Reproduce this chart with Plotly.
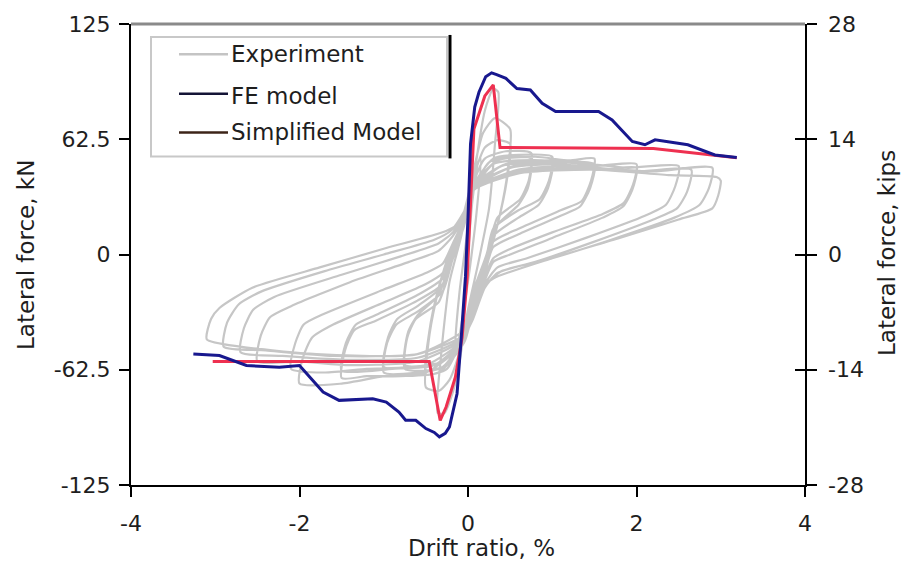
import plotly.graph_objects as go

# ---------------- data ----------------
x_ticks = [-4, -2, 0, 2, 4]
x_ticks_text = ["-4", "-2", "0", "2", "4"]
y_ticks_kn = [-125, -62.5, 0, 62.5, 125]
y_ticks_kn_text = ["-125", "-62.5", "0", "62.5", "125"]
y_ticks_kips = [-28, -14, 0, 14, 28]
y_ticks_kips_text = ["-28", "-14", "0", "14", "28"]

fe_drift = [-3.26, -2.95, -2.63, -2.24, -2.0, -1.84, -1.72, -1.53, -1.13, -0.97,
            -0.82, -0.74, -0.62, -0.50, -0.40, -0.34, -0.27, -0.22, -0.13, -0.08,
            -0.03, 0.0, 0.03, 0.08, 0.13, 0.21, 0.28, 0.34, 0.45, 0.58, 0.66, 0.74,
            0.88, 1.04, 1.31, 1.55, 1.71, 1.95, 2.10, 2.22, 2.61, 2.93, 3.19]
fe_force = [-53.9, -54.8, -60.2, -61.1, -60.2, -68.3, -74.6, -79.1, -78.2, -80.0,
            -85.4, -89.9, -89.9, -94.4, -96.5, -98.9, -97.0, -93.5, -75.5, -45.0,
            -12.0, 20.0, 60.0, 80.0, 88.0, 96.4, 98.5, 97.5, 95.5, 90.0, 89.5, 89.2,
            82.0, 77.5, 77.5, 77.5, 73.0, 61.3, 59.5, 62.2, 59.5, 54.0, 52.6]

simp_drift = [-3.03, -0.46, -0.33, -0.26, -0.15, -0.07, -0.01, 0.07, 0.20, 0.30, 0.38, 2.20, 3.19]
simp_force = [-58.0, -58.0, -90.0, -82.7, -66.5, -45.0, -12.5, 68.0, 86.0, 92.0, 58.0, 57.5, 52.5]

# experimental hysteresis path, (drift %, force kN) pairs, cycle after cycle
exp_points = [
    (0, 0), (0.05, 28), (0.12, 50), (0.15, 52), (0.1, 22), (0.02, -8), (-0.05, -30),
    (-0.12, -48), (-0.15, -50), (-0.1, -20), (-0.02, 8),
    (0.08, 45), (0.2, 78), (0.3, 90), (0.36, 88), (0.32, 60), (0.25, 25), (0.12, -5),
    (0.0, -30), (-0.15, -70), (-0.28, -86), (-0.36, -86), (-0.32, -55), (-0.22, -15), (-0.08, 10),
    (0.05, 42), (0.18, 66), (0.32, 74), (0.5, 68), (0.47, 45), (0.38, 22), (0.25, 0), (0.1, -15),
    (-0.05, -45), (-0.22, -68), (-0.35, -74), (-0.5, -72), (-0.47, -48), (-0.38, -25),
    (-0.25, -3), (-0.1, 14),
    (0.05, 40), (0.2, 58), (0.35, 62), (0.5, 60), (0.46, 40), (0.36, 18), (0.22, -4), (0.05, -20),
    (-0.05, -42), (-0.25, -62), (-0.5, -65), (-0.46, -42), (-0.36, -20), (-0.22, 0), (-0.05, 16),
    (0.06, 38), (0.2, 52), (0.45, 56), (0.75, 55), (0.72, 40), (0.62, 30), (0.35, 20), (0.22, 0),
    (0.05, -22), (-0.05, -44), (-0.25, -60), (-0.5, -63), (-0.75, -62), (-0.72, -45),
    (-0.62, -35), (-0.35, -26), (-0.2, -5), (-0.05, 15),
    (0.07, 36), (0.25, 50), (0.5, 53), (0.75, 52), (0.71, 36), (0.6, 27), (0.35, 16), (0.2, -4),
    (0.05, -24), (-0.05, -42), (-0.3, -58), (-0.75, -60), (-0.71, -42), (-0.6, -33),
    (-0.35, -22), (-0.2, -2), (-0.05, 16),
    (0.07, 38), (0.3, 52), (0.6, 54), (1.0, 53), (0.96, 40), (0.85, 30), (0.6, 24), (0.3, 14),
    (0.2, -6), (0.05, -26), (-0.05, -45), (-0.3, -61), (-0.6, -64), (-1.0, -64), (-0.96, -48),
    (-0.85, -38), (-0.6, -31), (-0.3, -20), (-0.18, -2), (-0.05, 16),
    (0.08, 36), (0.3, 49), (0.6, 51), (1.0, 50), (0.95, 36), (0.84, 27), (0.6, 20), (0.3, 10),
    (0.2, -8), (0.05, -28), (-0.05, -44), (-0.3, -58), (-0.6, -61), (-1.0, -61), (-0.95, -45),
    (-0.84, -35), (-0.6, -28), (-0.3, -17), (-0.18, 0), (-0.05, 17),
    (0.07, 38), (0.35, 51), (0.8, 53), (1.2, 51), (1.5, 52), (1.46, 40), (1.35, 29), (1.1, 24),
    (0.6, 14), (0.3, 7), (0.2, -8), (0.05, -30), (-0.05, -48), (-0.35, -64), (-0.8, -66),
    (-1.2, -66), (-1.5, -67), (-1.46, -52), (-1.35, -41), (-1.1, -36), (-0.6, -25),
    (-0.3, -16), (-0.18, 0), (-0.05, 18),
    (0.08, 36), (0.4, 48), (0.9, 50), (1.5, 49), (1.45, 36), (1.33, 26), (1.1, 21), (0.6, 11),
    (0.3, 4), (0.2, -10), (0.05, -30), (-0.05, -46), (-0.4, -60), (-0.9, -62), (-1.5, -63),
    (-1.45, -48), (-1.33, -38), (-1.1, -33), (-0.6, -22), (-0.3, -13), (-0.18, 2), (-0.05, 18),
    (0.07, 38), (0.45, 49), (1.0, 51), (1.5, 48), (2.0, 49), (1.96, 38), (1.85, 28), (1.6, 22),
    (1.0, 12), (0.5, 3), (0.3, -2), (0.2, -12), (0.05, -32), (-0.05, -48), (-0.5, -64),
    (-1.0, -66), (-1.5, -70), (-2.0, -70), (-1.96, -56), (-1.85, -45), (-1.6, -38),
    (-1.0, -26), (-0.5, -16), (-0.3, -10), (-0.18, 3), (-0.05, 18),
    (0.08, 36), (0.5, 47), (1.1, 49), (1.6, 46), (2.0, 47), (1.95, 35), (1.84, 26), (1.6, 20),
    (1.0, 9), (0.5, 0), (0.3, -4), (0.2, -14), (0.05, -33), (-0.05, -46), (-0.5, -60),
    (-1.2, -62), (-1.7, -64), (-2.1, -62), (-2.05, -48), (-1.95, -38), (-1.7, -32),
    (-1.0, -19), (-0.5, -10), (-0.3, -5), (-0.18, 6), (-0.05, 19),
    (0.07, 37), (0.55, 48), (1.2, 50), (1.9, 47), (2.5, 48), (2.46, 37), (2.35, 27), (2.1, 21),
    (1.4, 9), (0.7, -2), (0.35, -7), (0.2, -16), (0.05, -34), (-0.05, -46), (-0.6, -58),
    (-1.4, -60), (-2.0, -58), (-2.5, -58), (-2.46, -44), (-2.35, -34), (-2.1, -28),
    (-1.4, -15), (-0.7, -4), (-0.35, 2), (-0.18, 10), (-0.05, 20),
    (0.08, 36), (0.6, 46), (1.3, 48), (2.0, 45), (2.65, 46), (2.6, 34), (2.48, 25), (2.2, 19),
    (1.5, 7), (0.8, -4), (0.35, -10), (0.2, -18), (0.05, -35), (-0.05, -45), (-0.6, -56),
    (-1.5, -57), (-2.2, -55), (-2.7, -53), (-2.66, -40), (-2.55, -30), (-2.3, -23),
    (-1.5, -11), (-0.8, -1), (-0.35, 6), (-0.18, 12), (-0.05, 22),
    (0.07, 36), (0.6, 45), (1.4, 47), (2.2, 45), (2.9, 47), (2.86, 36), (2.75, 27), (2.45, 20),
    (1.7, 8), (1.0, -2), (0.4, -9), (0.22, -16), (0.05, -36), (-0.05, -44), (-0.6, -54),
    (-1.6, -55), (-2.4, -52), (-2.9, -50), (-2.86, -37), (-2.72, -27), (-2.45, -20),
    (-1.7, -9), (-1.0, 0), (-0.4, 8), (-0.2, 13), (-0.05, 23),
    (0.07, 35), (0.6, 44), (1.5, 46), (2.4, 43), (2.95, 42), (3.0, 40), (2.97, 32), (2.9, 25),
    (2.5, 19), (1.8, 9), (1.0, -2), (0.3, -13), (0.12, -20), (-0.02, -40), (-0.6, -54),
    (-1.8, -54), (-2.7, -50), (-3.1, -46), (-3.05, -35), (-2.95, -29), (-2.56, -18),
    (-1.76, -7), (-0.97, 3.5), (-0.26, 12.7), (0.0, 20), (0.06, 32),
]
exp_drift = [p[0] for p in exp_points]
exp_force = [p[1] for p in exp_points]

legend_names = ["Experiment", "FE model", "Simplified Model"]
legend_colors = ["#c4c4c4", "#141436", "#3c2418"]

# ---------------- figure ----------------
W, H = 902, 568
L, R, T, B = 131, 805, 22, 485


def fx(px):
    return (px - L) / (R - L)


def fy(py):
    return (B - py) / (B - T)


FONT = "DejaVu Sans"
TXT = "#1e1e1e"

fig = go.Figure()
fig.add_trace(go.Scatter(x=exp_drift, y=exp_force, mode="lines",
                         line=dict(color="#c6c6c6", width=2.2, shape="spline", smoothing=0.6),
                         showlegend=False, hoverinfo="skip"))
fig.add_trace(go.Scatter(x=simp_drift, y=simp_force, mode="lines",
                         line=dict(color="#ee3050", width=3), showlegend=False))
fig.add_trace(go.Scatter(x=fe_drift, y=fe_force, mode="lines",
                         line=dict(color="#18188e", width=3), showlegend=False))
# invisible trace to activate the right (kips) axis
fig.add_trace(go.Scatter(x=[None], y=[None], yaxis="y2", showlegend=False))

fig.update_layout(
    width=W, height=H,
    margin=dict(l=L, r=W - R, t=T, b=H - B, pad=0),
    paper_bgcolor="white", plot_bgcolor="white",
    font=dict(family=FONT, size=22, color=TXT),
    showlegend=False,
    xaxis=dict(range=[-4, 4], tickvals=x_ticks, ticktext=x_ticks_text,
               showgrid=False, zeroline=False,
               showline=True, linecolor="black", linewidth=2,
               ticks="outside", ticklen=10, tickwidth=2, tickcolor="black",
               ticklabelstandoff=8),
    yaxis=dict(range=[-125, 125], tickvals=y_ticks_kn, ticktext=y_ticks_kn_text,
               showgrid=False, zeroline=False,
               showline=True, linecolor="black", linewidth=2, mirror="ticks",
               ticks="outside", ticklen=10, tickwidth=2, tickcolor="black",
               ticklabelstandoff=4),
    yaxis2=dict(range=[-28, 28], tickvals=y_ticks_kips, ticktext=y_ticks_kips_text,
                overlaying="y", side="right",
                showgrid=False, zeroline=False, showline=False,
                ticks="inside", ticklen=10, tickwidth=2, tickcolor="black",
                ticklabelstandoff=22),
)

shapes = []
# grey top frame line
shapes.append(dict(type="line", xref="paper", yref="paper", x0=0, x1=1, y0=1, y1=1,
                   line=dict(color="#8a8a8a", width=3)))
# legend box
shapes.append(dict(type="rect", xref="paper", yref="paper",
                   x0=fx(151), x1=fx(447), y0=fy(155), y1=fy(35),
                   line=dict(color="#c8c8c8", width=2), fillcolor="white"))
shapes.append(dict(type="line", xref="paper", yref="paper",
                   x0=fx(450), x1=fx(450), y0=fy(157), y1=fy(33),
                   line=dict(color="black", width=3)))
rows = [52.5, 92, 131]
for name, col, ry in zip(legend_names, legend_colors, rows):
    shapes.append(dict(type="line", xref="paper", yref="paper",
                       x0=fx(179), x1=fx(228), y0=fy(ry), y1=fy(ry),
                       line=dict(color=col, width=2.5)))
fig.update_layout(shapes=shapes)

ann = []
for name, ry in zip(legend_names, [52, 94, 130]):
    ann.append(dict(text=name, xref="paper", yref="paper", x=fx(229), y=fy(ry),
                    xanchor="left", yanchor="middle", showarrow=False,
                    font=dict(family=FONT, size=23, color=TXT)))
ann.append(dict(text="Drift ratio, %", xref="paper", yref="paper", x=fx(481), y=fy(548),
                xanchor="center", yanchor="middle", showarrow=False,
                font=dict(family=FONT, size=23, color=TXT)))
ann.append(dict(text="Lateral force, kN", xref="paper", yref="paper", x=fx(26), y=fy(254),
                xanchor="center", yanchor="middle", textangle=-90, showarrow=False,
                font=dict(family=FONT, size=23, color=TXT)))
ann.append(dict(text="Lateral force, kips", xref="paper", yref="paper", x=fx(887), y=fy(252),
                xanchor="center", yanchor="middle", textangle=-90, showarrow=False,
                font=dict(family=FONT, size=23, color=TXT)))
fig.update_layout(annotations=ann)

fig.write_html("out.html")
